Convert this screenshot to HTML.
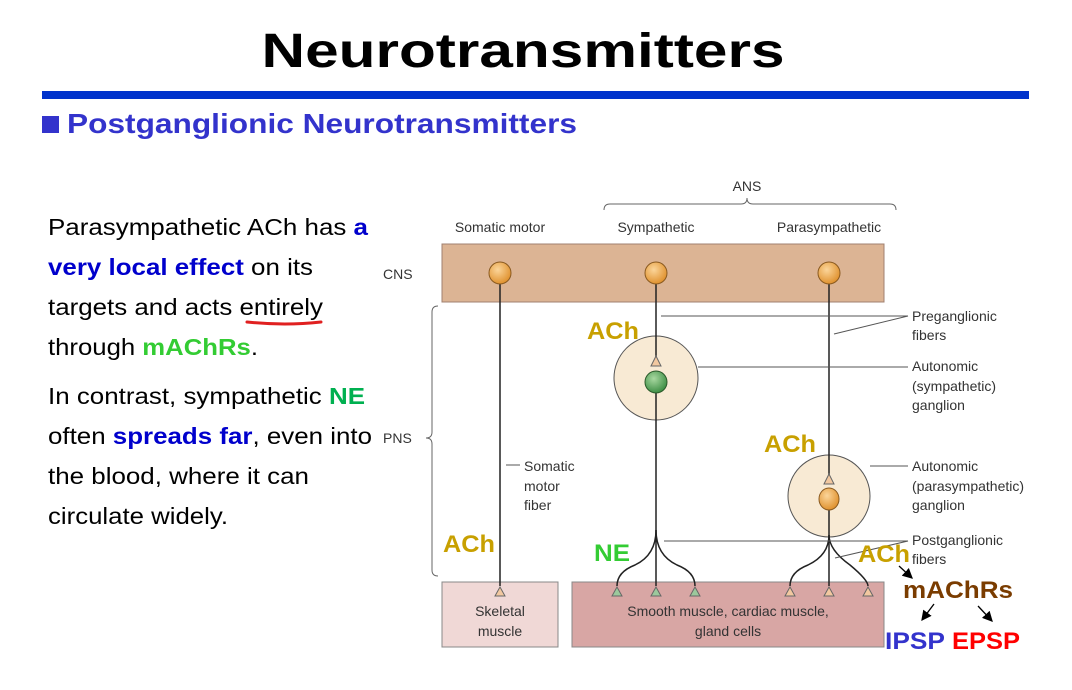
<!DOCTYPE html>
<html><head><meta charset="utf-8"><style>
html,body{margin:0;padding:0;background:#fff;}
svg{display:block;font-family:"Liberation Sans",Arial,sans-serif;}
</style></head><body>
<svg width="1072" height="690" viewBox="0 0 1072 690">
<defs>
<radialGradient id="og" cx="40%" cy="35%" r="65%"><stop offset="0" stop-color="#fbd59a"/><stop offset="1" stop-color="#e0922f"/></radialGradient>
<radialGradient id="gg" cx="40%" cy="35%" r="65%"><stop offset="0" stop-color="#a8d8a0"/><stop offset="1" stop-color="#3f8f46"/></radialGradient>
<marker id="ar" markerWidth="8" markerHeight="8" refX="7" refY="4" orient="auto"><path d="M0,0 L8,4 L0,8 z" fill="#000"/></marker>
</defs>
<text x="523" y="67" text-anchor="middle" font-size="48" font-weight="bold" textLength="523" lengthAdjust="spacingAndGlyphs">Neurotransmitters</text>
<rect x="42" y="91" width="987" height="8" fill="#0033cc"/>
<rect x="42" y="116" width="17" height="17" fill="#3333cc"/>
<text x="67" y="133" font-size="28" font-weight="bold" fill="#3333cc" textLength="510" lengthAdjust="spacingAndGlyphs">Postganglionic Neurotransmitters</text>

<g font-size="23" fill="#000">
<text x="48" y="235" textLength="320" lengthAdjust="spacingAndGlyphs">Parasympathetic ACh has <tspan fill="#0000cc" font-weight="bold">a</tspan></text>
<text x="48" y="275" textLength="265" lengthAdjust="spacingAndGlyphs"><tspan fill="#0000cc" font-weight="bold">very local effect</tspan> on its</text>
<text x="48" y="315" textLength="275" lengthAdjust="spacingAndGlyphs">targets and acts entirely</text>
<text x="48" y="355" textLength="210" lengthAdjust="spacingAndGlyphs">through <tspan fill="#33cc33" font-weight="bold">mAChRs</tspan>.</text>
<text x="48" y="404" textLength="317" lengthAdjust="spacingAndGlyphs">In contrast, sympathetic <tspan fill="#00b050" font-weight="bold">NE</tspan></text>
<text x="48" y="444" textLength="324" lengthAdjust="spacingAndGlyphs">often <tspan fill="#0000cc" font-weight="bold">spreads far</tspan>, even into</text>
<text x="48" y="484" textLength="261" lengthAdjust="spacingAndGlyphs">the blood, where it can</text>
<text x="48" y="524" textLength="180" lengthAdjust="spacingAndGlyphs">circulate widely.</text>
</g>
<path d="M247 322 Q285 326 321 322" stroke="#e02020" stroke-width="3" fill="none" stroke-linecap="round"/>

<rect x="442" y="244" width="442" height="58" fill="#dcb494" stroke="#a08070"/>
<rect x="442" y="582" width="116" height="65" fill="#f0d8d6" stroke="#888"/>
<rect x="572" y="582" width="312" height="65" fill="#d8a6a4" stroke="#888"/>

<g font-size="14" fill="#333">
<text x="383" y="279">CNS</text>
<text x="383" y="443">PNS</text>
<text x="747" y="191" text-anchor="middle">ANS</text>
<text x="500" y="232" text-anchor="middle">Somatic motor</text>
<text x="656" y="232" text-anchor="middle">Sympathetic</text>
<text x="829" y="232" text-anchor="middle">Parasympathetic</text>
<text x="912" y="321">Preganglionic</text>
<text x="912" y="340">fibers</text>
<text x="912" y="371">Autonomic</text>
<text x="912" y="391">(sympathetic)</text>
<text x="912" y="410">ganglion</text>
<text x="912" y="471">Autonomic</text>
<text x="912" y="491">(parasympathetic)</text>
<text x="912" y="510">ganglion</text>
<text x="912" y="545">Postganglionic</text>
<text x="912" y="564">fibers</text>
<text x="524" y="471">Somatic</text>
<text x="524" y="491">motor</text>
<text x="524" y="510">fiber</text>
<text x="500" y="616" text-anchor="middle">Skeletal</text>
<text x="500" y="636" text-anchor="middle">muscle</text>
<text x="728" y="616" text-anchor="middle">Smooth muscle, cardiac muscle,</text>
<text x="728" y="636" text-anchor="middle">gland cells</text>
</g>

<path d="M604 210 Q604 204 610 204 L741 204 Q747 204 747 198 Q747 204 753 204 L890 204 Q896 204 896 210" stroke="#666" fill="none"/>
<path d="M438 306 Q432 306 432 312 L432 432 Q432 438 426 438 Q432 438 432 444 L432 570 Q432 576 438 576" stroke="#666" fill="none"/>

<circle cx="656" cy="378" r="42" fill="#f8ead4" stroke="#555"/>
<circle cx="829" cy="496" r="41" fill="#f8ead4" stroke="#555"/>

<g stroke="#222" stroke-width="1.5" fill="none">
<line x1="500" y1="273" x2="500" y2="586"/>
<line x1="656" y1="273" x2="656" y2="358"/>
<line x1="656" y1="382" x2="656" y2="586"/>
<line x1="829" y1="273" x2="829" y2="476"/>
<line x1="829" y1="499" x2="829" y2="586"/>
<path d="M656 530 Q656 555 635 565 Q617 572 617 586"/>
<path d="M656 530 Q656 555 677 565 Q695 572 695 586"/>
<path d="M829 535 Q829 555 808 565 Q790 572 790 586"/>
<path d="M829 535 Q829 550 850 565 Q868 580 868 586"/>
</g>
<g stroke="#555" stroke-width="1" fill="none">
<line x1="661" y1="316" x2="908" y2="316"/>
<line x1="834" y1="334" x2="908" y2="316"/>
<line x1="698" y1="367" x2="908" y2="367"/>
<line x1="870" y1="466" x2="908" y2="466"/>
<line x1="664" y1="541" x2="908" y2="541"/>
<line x1="835" y1="558" x2="908" y2="541"/>
<line x1="506" y1="465" x2="520" y2="465"/>
</g>

<circle cx="500" cy="273" r="11" fill="url(#og)" stroke="#8a5a20"/>
<circle cx="656" cy="273" r="11" fill="url(#og)" stroke="#8a5a20"/>
<circle cx="829" cy="273" r="11" fill="url(#og)" stroke="#8a5a20"/>
<circle cx="656" cy="382" r="11" fill="url(#gg)" stroke="#2a5a2a"/>
<ellipse cx="829" cy="499" rx="10" ry="11" fill="url(#og)" stroke="#8a5a20"/>

<g stroke="#666" stroke-width="1">
<path d="M656 356 L651 366 L661 366 z" fill="#f2c8a0"/>
<path d="M829 474 L824 484 L834 484 z" fill="#f2c8a0"/>
<path d="M500 587 L495 596 L505 596 z" fill="#f2c8a0"/>
<path d="M617 587 L612 596 L622 596 z" fill="#9cc89c"/>
<path d="M656 587 L651 596 L661 596 z" fill="#9cc89c"/>
<path d="M695 587 L690 596 L700 596 z" fill="#9cc89c"/>
<path d="M790 587 L785 596 L795 596 z" fill="#f2c8a0"/>
<path d="M829 587 L824 596 L834 596 z" fill="#f2c8a0"/>
<path d="M868 587 L863 596 L873 596 z" fill="#f2c8a0"/>
</g>

<g font-size="24" font-weight="bold">
<text x="587" y="339" fill="#c8a000" textLength="52" lengthAdjust="spacingAndGlyphs">ACh</text>
<text x="764" y="452" fill="#c8a000" textLength="52" lengthAdjust="spacingAndGlyphs">ACh</text>
<text x="443" y="552" fill="#c8a000" textLength="52" lengthAdjust="spacingAndGlyphs">ACh</text>
<text x="858" y="562" fill="#c8a000" textLength="52" lengthAdjust="spacingAndGlyphs">ACh</text>
<text x="594" y="561" fill="#33cc33" textLength="36" lengthAdjust="spacingAndGlyphs">NE</text>
<text x="903" y="598" fill="#7a3c00" textLength="110" lengthAdjust="spacingAndGlyphs">mAChRs</text>
<text x="885" y="649" fill="#3333cc" textLength="60" lengthAdjust="spacingAndGlyphs">IPSP</text>
<text x="952" y="649" fill="#ff0000" textLength="68" lengthAdjust="spacingAndGlyphs">EPSP</text>
</g>
<g stroke="#000" stroke-width="1.3" marker-end="url(#ar)">
<line x1="899" y1="566" x2="912" y2="578"/>
<line x1="934" y1="604" x2="922" y2="620"/>
<line x1="978" y1="606" x2="992" y2="621"/>
</g>
</svg>
</body></html>
